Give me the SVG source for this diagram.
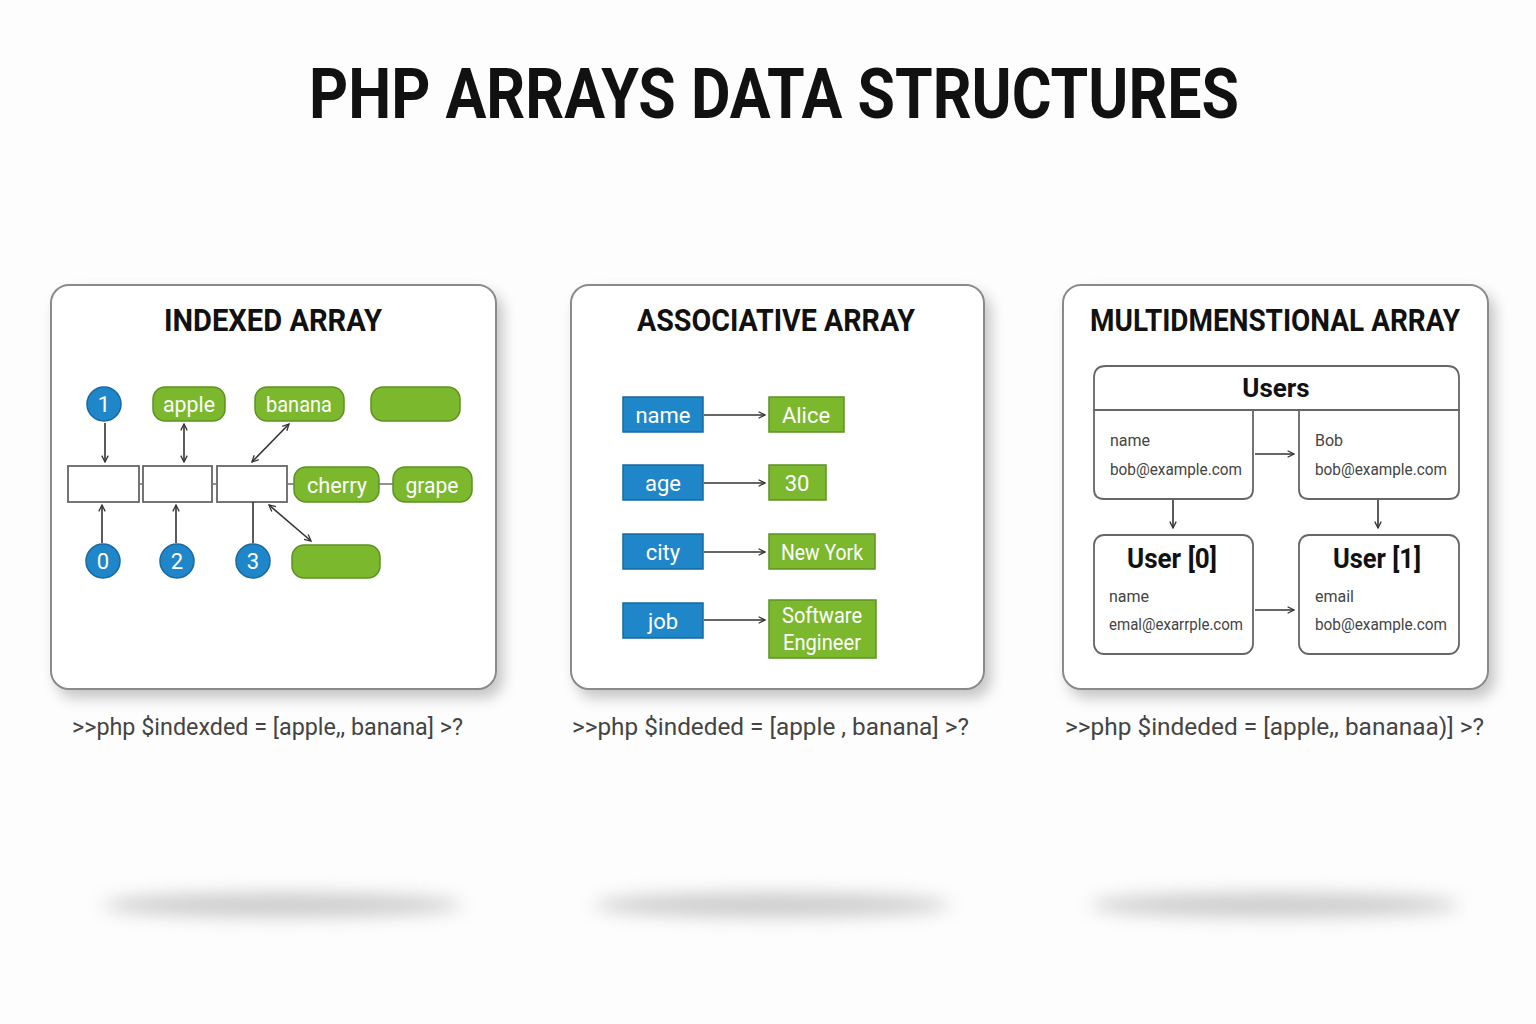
<svg xmlns="http://www.w3.org/2000/svg" width="1536" height="1024" viewBox="0 0 1536 1024">
<defs>
<filter id="sh" x="-10%" y="-10%" width="130%" height="130%"><feDropShadow dx="6" dy="8" stdDeviation="7" flood-color="#000" flood-opacity="0.22"/></filter>
<filter id="blur" x="-20%" y="-200%" width="140%" height="500%"><feGaussianBlur stdDeviation="9"/></filter>
<marker id="ah" viewBox="0 0 10 10" refX="9" refY="5" markerWidth="8" markerHeight="8" orient="auto-start-reverse" markerUnits="userSpaceOnUse"><path d="M1,1 L9,5 L1,9" fill="none" stroke="#333" stroke-width="1.6"/></marker>
<style>
.panel{fill:#fff;stroke:#8a8a8a;stroke-width:2}
.ttl{font-family:Roboto,"Liberation Sans",sans-serif;font-weight:700;fill:#111}
.blue{fill:#1f86c9;stroke:#17699f;stroke-width:1.5}
.green{fill:#7bb82d;stroke:#5c9222;stroke-width:1.5}
.wt{font-family:Roboto,"Liberation Sans",sans-serif;fill:#fff;font-size:22px;text-anchor:middle}
.box{fill:#fff;stroke:#666;stroke-width:1.8}
.ln{stroke:#333;stroke-width:1.6;fill:none}
.cell{fill:#fff;stroke:#666;stroke-width:1.8}
.sm{font-family:Roboto,"Liberation Sans",sans-serif;fill:#444;font-size:16px}
.code{font-family:Roboto,"Liberation Sans",sans-serif;fill:#444;font-size:24px}
</style>
</defs>
<rect width="1536" height="1024" fill="#fdfdfd"/>
<text class="ttl" x="774" y="118" font-size="70" text-anchor="middle" textLength="930" lengthAdjust="spacingAndGlyphs">PHP ARRAYS DATA STRUCTURES</text>

<g id="floor-shadows" fill="#aaa" filter="url(#blur)" opacity="0.6">
<ellipse cx="282" cy="905" rx="180" ry="12"/>
<ellipse cx="772" cy="905" rx="178" ry="12"/>
<ellipse cx="1275" cy="905" rx="185" ry="12"/>
</g>

<g id="panel-indexed">
<rect class="panel" x="51" y="285" width="445" height="404" rx="18" filter="url(#sh)"/>
<text class="ttl" x="273" y="331" font-size="31" text-anchor="middle" textLength="218" lengthAdjust="spacingAndGlyphs">INDEXED ARRAY</text>
</g>
<g id="panel-assoc">
<rect class="panel" x="571" y="285" width="413" height="404" rx="18" filter="url(#sh)"/>
<text class="ttl" x="776" y="331" font-size="31" text-anchor="middle" textLength="278" lengthAdjust="spacingAndGlyphs">ASSOCIATIVE ARRAY</text>
</g>
<g id="panel-multi">
<rect class="panel" x="1063" y="285" width="425" height="404" rx="18" filter="url(#sh)"/>
<text class="ttl" x="1275" y="331" font-size="31" text-anchor="middle" textLength="370" lengthAdjust="spacingAndGlyphs">MULTIDMENSTIONAL ARRAY</text>
</g>

<!-- Indexed array nodes -->
<g id="idx-1"><circle class="blue" cx="104" cy="404" r="17"/><text class="wt" x="104" y="412">1</text></g>
<g id="idx-0"><circle class="blue" cx="103" cy="561" r="17"/><text class="wt" x="103" y="569">0</text></g>
<g id="idx-2"><circle class="blue" cx="177" cy="561" r="17"/><text class="wt" x="177" y="569">2</text></g>
<g id="idx-3"><circle class="blue" cx="253" cy="561" r="17"/><text class="wt" x="253" y="569">3</text></g>
<g id="val-apple"><rect class="green" x="153" y="387" width="72" height="34" rx="12"/><text class="wt" x="189" y="412" textLength="52" lengthAdjust="spacingAndGlyphs">apple</text></g>
<g id="val-banana"><rect class="green" x="255" y="387" width="89" height="34" rx="12"/><text class="wt" x="299" y="412" textLength="66" lengthAdjust="spacingAndGlyphs">banana</text></g>
<g id="val-empty1"><rect class="green" x="371" y="387" width="89" height="34" rx="12"/></g>
<g id="val-cherry"><rect class="green" x="294" y="467" width="85" height="35" rx="12"/><text class="wt" x="337" y="493" textLength="60" lengthAdjust="spacingAndGlyphs">cherry</text></g>
<g id="val-grape"><rect class="green" x="393" y="467" width="79" height="35" rx="12"/><text class="wt" x="432" y="493" textLength="53" lengthAdjust="spacingAndGlyphs">grape</text></g>
<g id="val-empty2"><rect class="green" x="292" y="545" width="88" height="33" rx="12"/></g>
<g id="slot-0"><rect class="box" x="68" y="466" width="71" height="36"/></g>
<g id="slot-1"><rect class="box" x="143" y="466" width="69" height="36"/></g>
<g id="slot-2"><rect class="box" x="217" y="466" width="70" height="36"/></g>

<!-- Associative array nodes -->
<g id="key-name"><rect class="blue" x="623" y="397" width="80" height="35"/><text class="wt" x="663" y="423">name</text></g>
<g id="key-age"><rect class="blue" x="623" y="465" width="80" height="35"/><text class="wt" x="663" y="491">age</text></g>
<g id="key-city"><rect class="blue" x="623" y="534" width="80" height="35"/><text class="wt" x="663" y="560">city</text></g>
<g id="key-job"><rect class="blue" x="623" y="603" width="80" height="35"/><text class="wt" x="663" y="629">job</text></g>
<g id="v-alice"><rect class="green" x="769" y="397" width="75" height="35"/><text class="wt" x="806" y="423">Alice</text></g>
<g id="v-30"><rect class="green" x="769" y="465" width="57" height="35"/><text class="wt" x="797" y="491">30</text></g>
<g id="v-ny"><rect class="green" x="769" y="534" width="106" height="35"/><text class="wt" x="822" y="560" textLength="82" lengthAdjust="spacingAndGlyphs">New York</text></g>
<g id="v-job"><rect class="green" x="769" y="600" width="107" height="58"/><text class="wt" x="822" y="623" textLength="80" lengthAdjust="spacingAndGlyphs">Software</text><text class="wt" x="822" y="650" textLength="78" lengthAdjust="spacingAndGlyphs">Engineer</text></g>

<!-- Multidimensional nodes -->
<g id="users">
<path class="cell" d="M1094,410 V378 Q1094,366 1106,366 H1447 Q1459,366 1459,378 V410 Z"/>
<text class="ttl" x="1276" y="397" font-size="26" text-anchor="middle">Users</text>
<path class="cell" d="M1094,410 H1253 V489 Q1253,499 1243,499 H1104 Q1094,499 1094,489 Z"/>
<path class="cell" d="M1299,410 H1459 V489 Q1459,499 1449,499 H1309 Q1299,499 1299,489 Z"/>
<text class="sm" x="1110" y="446">name</text>
<text class="sm" x="1110" y="475" textLength="132" lengthAdjust="spacingAndGlyphs">bob@example.com</text>
<text class="sm" x="1315" y="446">Bob</text>
<text class="sm" x="1315" y="475" textLength="132" lengthAdjust="spacingAndGlyphs">bob@example.com</text>
</g>
<g id="user0">
<rect class="cell" x="1094" y="535" width="159" height="119" rx="10"/>
<text class="ttl" x="1172" y="568" font-size="27" text-anchor="middle" textLength="90" lengthAdjust="spacingAndGlyphs">User [0]</text>
<text class="sm" x="1109" y="602">name</text>
<text class="sm" x="1109" y="630" textLength="134" lengthAdjust="spacingAndGlyphs">emal@exarrple.com</text>
</g>
<g id="user1">
<rect class="cell" x="1299" y="535" width="160" height="119" rx="10"/>
<text class="ttl" x="1377" y="568" font-size="27" text-anchor="middle" textLength="88" lengthAdjust="spacingAndGlyphs">User [1]</text>
<text class="sm" x="1315" y="602">email</text>
<text class="sm" x="1315" y="630" textLength="132" lengthAdjust="spacingAndGlyphs">bob@example.com</text>
</g>

<g id="connectors">
<line class="ln" x1="105" y1="423" x2="105" y2="462" marker-end="url(#ah)"/>
<line class="ln" x1="184" y1="424" x2="184" y2="462" marker-start="url(#ah)" marker-end="url(#ah)"/>
<line class="ln" x1="289" y1="424" x2="252" y2="462" marker-start="url(#ah)" marker-end="url(#ah)"/>
<line class="ln" x1="102" y1="543" x2="102" y2="505" marker-end="url(#ah)"/>
<line class="ln" x1="176" y1="543" x2="176" y2="505" marker-end="url(#ah)"/>
<line class="ln" x1="253" y1="502" x2="253" y2="543"/>
<line class="ln" x1="269" y1="505" x2="311" y2="541" marker-start="url(#ah)" marker-end="url(#ah)"/>
<line stroke="#777" stroke-width="1.6" x1="139" y1="484" x2="143" y2="484"/>
<line stroke="#777" stroke-width="1.6" x1="212" y1="484" x2="217" y2="484"/>
<line stroke="#777" stroke-width="1.6" x1="287" y1="484" x2="294" y2="484"/>
<line stroke="#777" stroke-width="1.6" x1="379" y1="484" x2="393" y2="484"/>
<line class="ln" x1="704" y1="415" x2="765" y2="415" marker-end="url(#ah)"/>
<line class="ln" x1="704" y1="483" x2="765" y2="483" marker-end="url(#ah)"/>
<line class="ln" x1="704" y1="552" x2="765" y2="552" marker-end="url(#ah)"/>
<line class="ln" x1="704" y1="620" x2="765" y2="620" marker-end="url(#ah)"/>
<line class="ln" x1="1255" y1="454" x2="1294" y2="454" marker-end="url(#ah)"/>
<line class="ln" x1="1255" y1="610" x2="1294" y2="610" marker-end="url(#ah)"/>
<line class="ln" x1="1173" y1="500" x2="1173" y2="528" marker-end="url(#ah)"/>
<line class="ln" x1="1378" y1="500" x2="1378" y2="528" marker-end="url(#ah)"/>
</g>

<g id="code-labels">
<text class="code" x="72" y="735" textLength="391" lengthAdjust="spacingAndGlyphs">&gt;&gt;php $indexded = [apple,, banana] &gt;?</text>
<text class="code" x="572" y="735" textLength="397" lengthAdjust="spacingAndGlyphs">&gt;&gt;php $indeded = [apple ,  banana] &gt;?</text>
<text class="code" x="1065" y="735" textLength="419" lengthAdjust="spacingAndGlyphs">&gt;&gt;php $indeded = [apple,,  bananaa)] &gt;?</text>
</g>
</svg>
